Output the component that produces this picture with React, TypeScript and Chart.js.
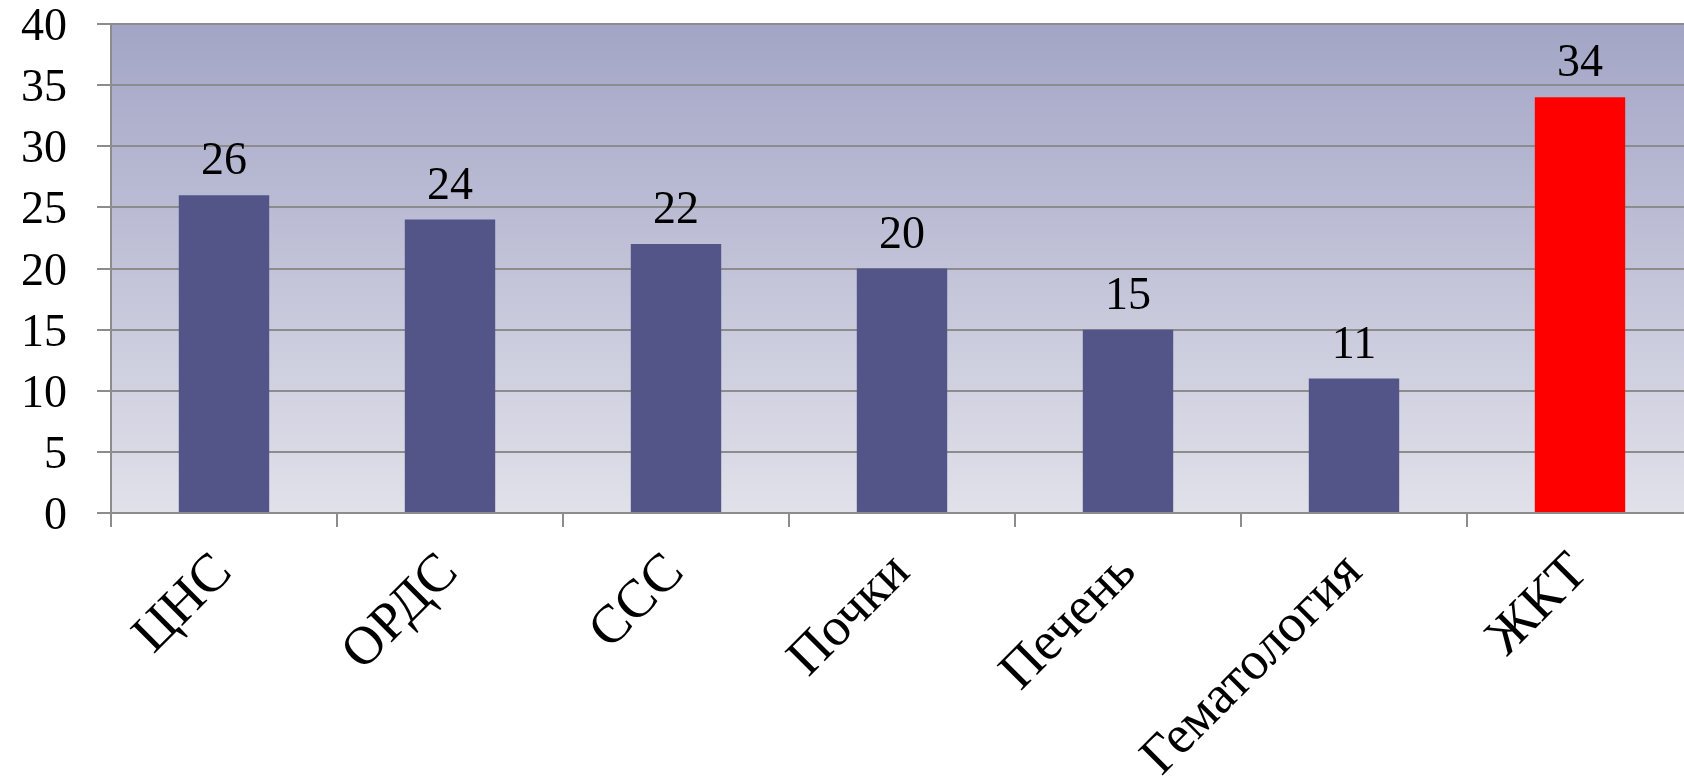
import React, { useEffect, useRef } from "react";
import { Chart, registerables } from "chart.js";

Chart.register(...registerables);

const categories = ["ЦНС", "ОРДС", "ССС", "Почки", "Печень", "Гематология", "ЖКТ"];
const values = [26, 24, 22, 20, 15, 11, 34];
const barColors = ["#535589", "#535589", "#535589", "#535589", "#535589", "#535589", "#FF0000"];
const yTicks = [0, 5, 10, 15, 20, 25, 30, 35, 40];

const SERIF = "'Liberation Serif', 'Times New Roman', serif";

const bgPlugin = {
  id: "plotBg",
  beforeDraw(chart: any) {
    const { ctx, chartArea } = chart;
    if (!chartArea) return;
    const g = ctx.createLinearGradient(0, chartArea.top, 0, chartArea.bottom);
    g.addColorStop(0, "#A3A5C6");
    g.addColorStop(1, "#E1E1EA");
    ctx.save();
    ctx.fillStyle = g;
    ctx.fillRect(chartArea.left, chartArea.top, chartArea.right - chartArea.left, chartArea.bottom - chartArea.top);
    ctx.restore();
  },
};

const labelPlugin = {
  id: "valueLabels",
  afterDatasetsDraw(chart: any) {
    const { ctx } = chart;
    const meta = chart.getDatasetMeta(0);
    ctx.save();
    ctx.font = `46px ${SERIF}`;
    ctx.fillStyle = "#000";
    ctx.textAlign = "center";
    ctx.textBaseline = "alphabetic";
    meta.data.forEach((bar: any, i: number) => {
      ctx.fillText(String(values[i]), bar.x, bar.y - 21);
    });
    ctx.restore();
  },
};

export default function App() {
  const ref = useRef<HTMLCanvasElement>(null);
  useEffect(() => {
    if (!ref.current) return;
    const chart = new Chart(ref.current, {
      type: "bar",
      data: {
        labels: categories,
        datasets: [
          {
            data: values,
            backgroundColor: barColors,
            borderWidth: 0,
            barPercentage: 0.4,
            categoryPercentage: 1,
          },
        ],
      },
      plugins: [bgPlugin, labelPlugin],
      options: {
        animation: false,
        responsive: false,
        devicePixelRatio: 1,
        layout: { padding: { top: 0, right: 7, left: 0, bottom: 0 } },
        plugins: { legend: { display: false }, tooltip: { enabled: false } },
        scales: {
          x: {
            offset: true,
            grid: {
              offset: true,
              drawOnChartArea: false,
              drawTicks: true,
              tickLength: 14,
              color: "#8C8C8C",
              lineWidth: 2,
            },
            border: { display: true, color: "#8C8C8C", width: 2 },
            ticks: {
              maxRotation: 45,
              minRotation: 45,
              autoSkip: false,
              padding: 14,
              color: "#000",
              font: { family: SERIF, size: 54 },
            },
            afterFit: (scale: any) => {
              scale.height = 263;
            },
          },
          y: {
            min: 0,
            max: 40,
            afterBuildTicks: (scale: any) => {
              scale.ticks = yTicks.map((v) => ({ value: v }));
            },
            grid: {
              color: "#8C8C8C",
              lineWidth: 2,
              drawTicks: true,
              tickLength: 14,
            },
            border: { display: true, color: "#8C8C8C", width: 2 },
            ticks: {
              padding: 30,
              labelOffset: 4,
              color: "#000",
              font: { family: SERIF, size: 46, lineHeight: 1 },
            },
            afterFit: (scale: any) => {
              scale.width = 111;
              scale.paddingTop = 24;
              scale.paddingBottom = 0;
            },
          },
        },
      },
    });
    return () => chart.destroy();
  }, []);
  return (
    <div style={{ position: "fixed", left: 0, top: 0, width: 1684, height: 776, overflow: "hidden", background: "#fff" }}>
      <canvas ref={ref} width={1700} height={776} style={{ display: "block" }} />
    </div>
  );
}
